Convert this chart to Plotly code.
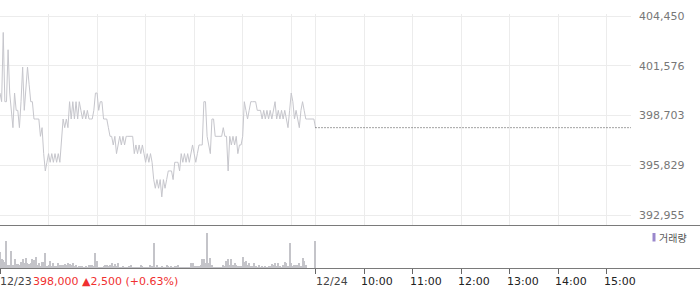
import plotly.graph_objects as go

# ---- data -------------------------------------------------------------
minutes = list(range(0, 391, 2))  # minutes after 09:00 on 12/23

prices = [
    400000, 399500, 403500, 399500, 399500, 402500, 400000, 399000, 398000, 400000,
    399000, 399000, 398000, 399500, 401500, 399000, 400500, 401500, 400500, 399500,
    399500, 398500, 398500, 398500, 398500, 397500, 398000, 396500, 395500, 396000,
    396500, 396000, 396500, 396000, 396500, 396000, 396500, 396000, 397500, 398500,
    398000, 398500, 398000, 399500, 398500, 399500, 398500, 399500, 398500, 399500,
    399000, 398500, 399000, 398500, 399000, 398500, 398500, 398500, 399000, 400000,
    400000, 399000, 399500, 399500, 398500, 398500, 398500, 398000, 397500, 397500,
    397000, 397500, 396500, 397000, 397500, 397000, 397500, 397000, 397500, 397500,
    397500, 397500, 397500, 396500, 397000, 396500, 397000, 396500, 397000, 396500,
    396000, 396500, 396000, 396500, 396000, 395000, 394500, 395000, 394500, 395000,
    394000, 395000, 394500, 395000, 395500, 395500, 395500, 395000, 396000, 396000,
    396000, 395500, 396500, 396000, 396500, 396000, 396500, 396000, 396500, 397000,
    396500, 396000, 396500, 397000, 397000, 397000, 399500, 399500, 397500, 397000,
    396500, 398500, 398500, 397500, 397500, 397500, 397500, 397500, 398000, 397500,
    397500, 395500, 397500, 397000, 397500, 397000, 397500, 396500, 397000, 397000,
    397500, 399500, 399000, 398500, 399000, 399500, 399500, 399500, 399500, 399000,
    399000, 399000, 398500, 399000, 398500, 399000, 398500, 399000, 398500, 399000,
    399500, 398500, 399000, 398500, 399000, 398500, 399000, 398500, 398000, 399000,
    400000, 399500, 398500, 399000, 398500, 398000, 399000, 399500, 399000, 398500,
    398500, 398500, 398500, 398500, 398500, 398000,
]

volumes = [
    16, 9, 8, 6, 27, 3, 3, 17, 3, 9,
    4, 4, 3, 6, 9, 5, 10, 5, 4, 5,
    9, 8, 11, 3, 5, 2, 6, 6, 15, 2,
    3, 7, 2, 5, 2, 2, 5, 3, 3, 3,
    4, 3, 5, 4, 3, 5, 2, 3, 1, 2,
    2, 2, 1, 2, 1, 3, 3, 3, 2, 15,
    7, 1, 1, 1, 2, 3, 3, 2, 3, 5,
    2, 4, 2, 5, 1, 1, 2, 1, 1, 1,
    2, 3, 1, 1, 1, 1, 1, 3, 2, 1,
    1, 1, 1, 3, 2, 25, 1, 3, 1, 1,
    2, 1, 1, 3, 2, 1, 2, 1, 2, 2,
    3, 1, 1, 1, 1, 1, 1, 1, 5, 5,
    2, 2, 2, 2, 3, 9, 9, 5, 35, 5,
    10, 3, 1, 1, 1, 1, 1, 1, 3, 2,
    7, 9, 3, 9, 3, 5, 3, 2, 2, 2,
    11, 6, 7, 3, 5, 2, 2, 5, 2, 1,
    3, 1, 2, 1, 2, 1, 2, 2, 4, 3,
    5, 2, 5, 2, 1, 3, 6, 5, 2, 25,
    5, 2, 3, 3, 3, 5, 2, 10, 7, 3,
    0, 0, 0, 0, 0, 27,
]

close_price = 398000
y_ticks = [392955, 395829, 398703, 401576, 404450]
y_tick_labels = ["392,955", "395,829", "398,703", "401,576", "404,450"]
grid_minutes = [60, 120, 180, 240, 300, 360, 390, 450, 510, 570, 630, 690, 750]
axis_tick_minutes = [0, 390, 450, 510, 570, 630, 690, 750]
date_minutes = [0, 390]
date_labels = ["12/23", "12/24"]
hour_minutes = [450, 510, 570, 630, 690, 750]
hour_labels = ["10:00", "11:00", "12:00", "13:00", "14:00", "15:00"]
summary_text = "398,000 \u25b22,500 (+0.63%)"
legend_label = "거래량"

# ---- layout geometry (pixels of a 700x289 canvas) ------------------------
W, H = 700, 289
def py(p):
    return (H - p) / H
def px(p):
    return p / W

plot_right = 631
x_dom = [0, px(plot_right)]
# price panel: 404450 at y=16px, 392955 at y=215px
per_px = (404450 - 392955) / (215 - 16)
price_top_px, price_bot_px = 14, 225
y_range = [392955 - (price_bot_px - 215) * per_px, 404450 + (16 - price_top_px) * per_px]

font_family = "DejaVu Sans"

fig = go.Figure()
fig.add_trace(go.Scatter(
    x=minutes, y=prices, mode="lines",
    line=dict(color="#c6c6cc", width=1),
    xaxis="x", yaxis="y", hoverinfo="skip", showlegend=False,
))
fig.add_trace(go.Scatter(
    x=[390, 780], y=[close_price, close_price], mode="lines",
    line=dict(color="#444444", width=1, dash="1px,2px"),
    xaxis="x", yaxis="y", hoverinfo="skip", showlegend=False,
))
fig.add_trace(go.Bar(
    x=minutes, y=volumes, width=1.3,
    marker=dict(color="#c4c4c9", line=dict(width=0)),
    xaxis="x2", yaxis="y2", hoverinfo="skip", showlegend=False,
))

annotations = []
for m, lab in zip(date_minutes, date_labels):
    annotations.append(dict(
        x=m, xref="x2", y=py(281.5), yref="paper", text=lab, showarrow=False,
        xanchor="left", yanchor="middle", xshift=-2,
        font=dict(family=font_family, size=11, color="#444444"),
    ))
for m, lab in zip(hour_minutes, hour_labels):
    annotations.append(dict(
        x=m, xref="x2", y=py(281.5), yref="paper", text=lab, showarrow=False,
        xanchor="left", yanchor="middle", xshift=-5,
        font=dict(family=font_family, size=11, color="#222222"),
    ))
annotations.append(dict(
    x=px(31), xref="paper", y=py(281.5), yref="paper", text=summary_text,
    showarrow=False, xanchor="left", yanchor="middle",
    font=dict(family=font_family, size=11, color="#f03030"),
))
annotations.append(dict(
    x=px(656.5), xref="paper", y=py(237.5), yref="paper", text=legend_label,
    showarrow=False, xanchor="left", yanchor="middle",
    font=dict(family="Noto Sans CJK KR", size=10, color="#555555"),
))

shapes = [
    dict(type="line", xref="paper", yref="paper", x0=0, x1=1,
         y0=py(225.5), y1=py(225.5), line=dict(color="#7a7a7a", width=1)),
    dict(type="line", xref="paper", yref="paper", x0=0, x1=1,
         y0=py(268.5), y1=py(268.5), line=dict(color="#7a7a7a", width=1)),
    dict(type="rect", xref="paper", yref="paper", x0=px(652.5), x1=px(655.5),
         y0=py(241.5), y1=py(233), fillcolor="#9a88cc", line=dict(width=0)),
]

fig.update_layout(
    width=W, height=H, margin=dict(l=0, r=0, t=0, b=0),
    paper_bgcolor="white", plot_bgcolor="white",
    bargap=0,
    xaxis=dict(domain=x_dom, range=[0, 780], tickvals=grid_minutes,
               showticklabels=False, showgrid=True, gridcolor="#ececec",
               gridwidth=1, zeroline=False, showline=False, ticks="",
               anchor="y", fixedrange=True),
    yaxis=dict(domain=[py(price_bot_px), py(price_top_px)], range=y_range,
               side="right", anchor="x", tickvals=y_ticks, ticktext=y_tick_labels,
               showgrid=True, gridcolor="#ececec", gridwidth=1, zeroline=False,
               showline=False, ticks="", ticklabelstandoff=7, automargin=False,
               tickfont=dict(family=font_family, size=11, color="#777777"),
               fixedrange=True),
    xaxis2=dict(domain=x_dom, range=[0, 780], tickvals=axis_tick_minutes,
                showticklabels=False, showgrid=False, zeroline=False,
                showline=False, ticks="outside", ticklen=5, tickwidth=1,
                tickcolor="#666666", anchor="y2", fixedrange=True),
    yaxis2=dict(domain=[py(268), py(226)], range=[0, 42], showgrid=False,
                showticklabels=False, zeroline=False, showline=False,
                anchor="x2", fixedrange=True),
    annotations=annotations,
    shapes=shapes,
)

fig.write_html("out.html", config={"displayModeBar": False})
